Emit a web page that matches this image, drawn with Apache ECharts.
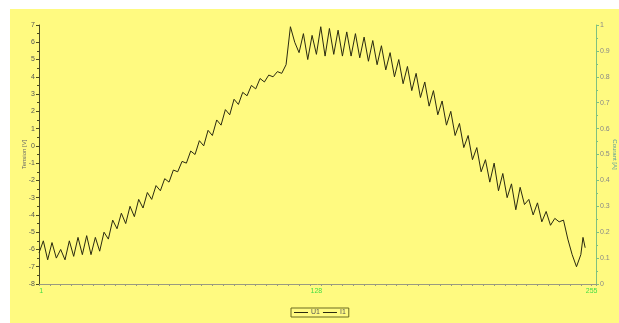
<!DOCTYPE html>
<html><head><meta charset="utf-8">
<script src="https://cdn.jsdelivr.net/npm/echarts@6/dist/echarts.min.js"></script>
<style>
html,body{margin:0;padding:0;background:#fff;width:619px;height:323px;overflow:hidden}
#c{position:absolute;left:10px;top:9px;width:609px;height:314px;background:#FFFA80}
</style></head><body>
<div id="c"></div>
<script>
const xIdx = [0,2,4,6,8,10,12,14,16,18,20,22,24,26,28,30,32,34,36,38,40,42,44,46,48,50,52,54,56,58,60,62,64,66,68,70,72,74,76,78,80,82,84,86,88,90,92,94,96,98,100,102,104,106,108,110,112,114,116,118,120,122,124,126,128,130,132,134,136,138,140,142,144,146,148,150,152,154,156,158,160,162,164,166,168,170,172,174,176,178,180,182,184,186,188,190,192,194,196,198,200,202,204,206,208,210,212,214,216,218,220,222,224,226,228,230,232,234,236,238,240,242,244,246,248,250,251,252];
const u1 = [-6.2,-5.5,-6.6,-5.6,-6.5,-6.0,-6.6,-5.5,-6.4,-5.3,-6.3,-5.2,-6.3,-5.3,-6.1,-5.0,-5.4,-4.3,-4.8,-3.9,-4.5,-3.5,-4.1,-3.1,-3.6,-2.7,-3.1,-2.3,-2.6,-1.9,-2.1,-1.4,-1.5,-0.9,-1.0,-0.3,-0.5,0.3,0.0,0.9,0.6,1.5,1.2,2.1,1.8,2.7,2.4,3.1,2.9,3.5,3.3,3.9,3.7,4.1,4.0,4.3,4.2,4.7,6.9,6.0,5.4,6.5,5.0,6.4,5.3,6.9,5.2,6.8,5.3,6.7,5.2,6.6,5.2,6.5,5.1,6.3,4.9,6.1,4.7,5.8,4.4,5.4,4.0,5.0,3.6,4.6,3.2,4.2,2.8,3.7,2.3,3.2,1.8,2.6,1.2,2.0,0.6,1.3,-0.1,0.6,-0.8,-0.1,-1.5,-0.8,-2.1,-1.0,-2.6,-1.6,-3.0,-2.2,-3.7,-2.4,-3.4,-3.1,-4.0,-3.3,-4.4,-3.8,-4.6,-4.2,-4.4,-4.3,-5.4,-6.3,-7.0,-6.3,-5.3,-5.9,-5.6,-6.4];
const i1 = [];
const xLabels = [1,128,255];
const seriesNames = ['U1','I1'];

const chart = echarts.init(document.getElementById('c'));
chart.setOption({
  backgroundColor: '#FFFA80',
  animation: false,
  grid: {left: 29, right: 23, top: 16, bottom: 39, outerBoundsMode: 'none', containLabel: false},
  legend: {
    data: seriesNames, bottom: 6, left: 281,
    icon: 'rect', itemWidth: 14, itemHeight: 1, itemGap: 3,
    borderColor: '#6b6b20', borderWidth: 1, padding: [1,3],
    textStyle: {fontSize: 7, color: '#555', padding: [0,0,0,-2]}
  },
  xAxis: {
    type: 'value', min: 0, max: 257, interval: 5,
    axisLine: {onZero: false, lineStyle: {color: '#9a9a80', width: 1}},
    axisTick: {show: true, length: 2, lineStyle: {color: '#9a9a80'}},
    axisLabel: {customValues: xLabels, fontSize: 7, color: '#44dd44', margin: 4},
    splitLine: {show: false}
  },
  yAxis: [{
    type: 'value', min: -8, max: 7, interval: 1,
    name: 'Tension [V]', nameLocation: 'middle', nameGap: 12, nameRotate: 90, nameMoveOverlap: false,
    nameTextStyle: {fontSize: 6, color: '#666'},
    axisLine: {show: true, lineStyle: {color: '#4a4a20'}},
    axisTick: {show: true, length: 3, lineStyle: {color: '#4a4a20'}},
    minorTick: {show: true, splitNumber: 2, length: 2, lineStyle: {color: '#4a4a20'}},
    axisLabel: {fontSize: 7, color: '#555', margin: 4},
    splitLine: {show: false}
  },{
    type: 'value', min: 0, max: 1, interval: 0.1, position: 'right',
    name: 'Courant [A]', nameLocation: 'middle', nameGap: 16, nameRotate: -90, nameMoveOverlap: false,
    nameTextStyle: {fontSize: 6, color: '#5a9a9a'},
    axisLine: {show: true, lineStyle: {color: '#80c080'}},
    axisTick: {show: true, length: 3, lineStyle: {color: '#80c080'}},
    minorTick: {show: true, splitNumber: 2, length: 2, lineStyle: {color: '#80c080'}},
    axisLabel: {fontSize: 7, color: '#888', margin: 4},
    splitLine: {show: false}
  }],
  series: [{
    name: 'U1', type: 'line', yAxisIndex: 0, showSymbol: false,
    data: xIdx.map((x,k)=>[x,u1[k]]),
    lineStyle: {color: '#2a2a10', width: 1}, itemStyle: {color: '#2a2a10'}
  },{
    name: 'I1', type: 'line', yAxisIndex: 1, showSymbol: false,
    data: i1,
    lineStyle: {color: '#2a2a10', width: 1}, itemStyle: {color: '#2a2a10'}
  }]
});
</script></body></html>
